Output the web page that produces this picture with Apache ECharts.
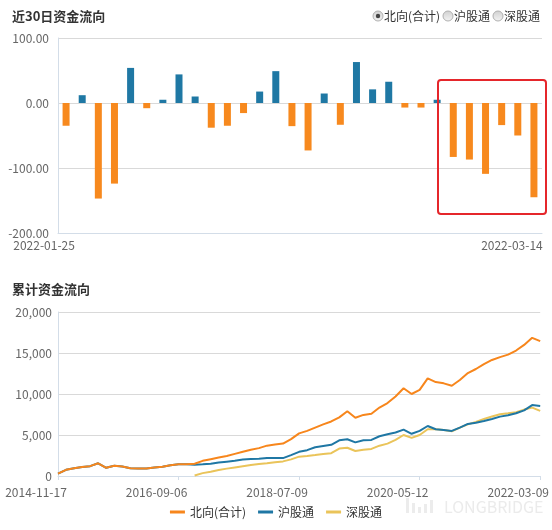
<!DOCTYPE html>
<html>
<head>
<meta charset="utf-8">
<script src="https://cdn.jsdelivr.net/npm/echarts@6/dist/echarts.min.js"></script>
<style>
  html, body { margin: 0; padding: 0; background: #fff; }
  #chart { width: 552px; height: 530px; }
</style>
</head>
<body>
<div id="chart"></div>
<script>
// 近30日资金流向 (亿元)
const flowDates = [
  '2022-01-25', '2022-01-26', '2022-01-27', '2022-01-28', '2022-02-07', '2022-02-08',
  '2022-02-09', '2022-02-10', '2022-02-11', '2022-02-14', '2022-02-15', '2022-02-16',
  '2022-02-17', '2022-02-18', '2022-02-21', '2022-02-22', '2022-02-23', '2022-02-24',
  '2022-02-25', '2022-02-28', '2022-03-01', '2022-03-02', '2022-03-03', '2022-03-04',
  '2022-03-07', '2022-03-08', '2022-03-09', '2022-03-10', '2022-03-11', '2022-03-14'
];
const flowValues = [
  -35, 12, -147, -124, 54, -8, 5, 44, 10, -38, -35, -15.5, 17.6, 49, -35.6,
  -73, 14.6, -33.5, 63, 21, 32.7, -7, -7, 5, -83, -87, -109, -34, -50, -145
];
const flowTicks = { min: -200, max: 100, step: 100 };

// 累计资金流向 (亿元)
const cumDates = [
  '2014-11-17', '2014-12-31', '2015-02-13', '2015-03-30', '2015-05-12', '2015-06-25',
  '2015-08-07', '2015-09-21', '2015-11-03', '2015-12-17', '2016-01-29', '2016-03-14',
  '2016-04-27', '2016-06-09', '2016-07-22', '2016-09-06', '2016-10-20', '2016-12-05',
  '2017-01-18', '2017-03-03', '2017-04-18', '2017-06-01', '2017-07-17', '2017-08-30',
  '2017-10-13', '2017-11-27', '2018-01-10', '2018-02-23', '2018-04-10', '2018-05-24',
  '2018-07-09', '2018-08-22', '2018-10-08', '2018-11-21', '2019-01-04', '2019-02-19',
  '2019-04-04', '2019-05-20', '2019-07-03', '2019-08-16', '2019-09-30', '2019-11-13',
  '2019-12-27', '2020-02-11', '2020-03-27', '2020-05-12', '2020-06-25', '2020-08-10',
  '2020-09-23', '2020-11-06', '2020-12-21', '2021-02-03', '2021-03-19', '2021-05-04',
  '2021-06-17', '2021-07-30', '2021-09-13', '2021-10-27', '2021-12-10', '2022-01-25',
  '2022-03-09'
];
const northTotal = [
  300, 750, 950, 1100, 1200, 1550, 1000, 1250, 1150, 950, 900, 920, 1050, 1130, 1300,
  1420, 1430, 1500, 1850, 2050, 2250, 2450, 2700, 2950, 3200, 3400, 3700, 3850, 3950,
  4500, 5200, 5500, 5900, 6300, 6650, 7150, 7900, 7100, 7450, 7600, 8350, 8900, 9700,
  10700, 10000, 10500, 11900, 11450, 11300, 11000, 11700, 12550, 13050, 13650, 14150,
  14500, 14800, 15300, 15990, 16850, 16450
];
const shConnect = [
  300, 750, 950, 1100, 1200, 1550, 1000, 1250, 1150, 950, 900, 920, 1050, 1130, 1300,
  1420, 1430, 1380, 1420, 1500, 1650, 1750, 1850, 2000, 2080, 2110, 2200, 2200, 2180,
  2550, 2950, 3150, 3500, 3650, 3800, 4350, 4480, 4100, 4350, 4400, 4850, 5100, 5300,
  5650, 5150, 5500, 6100, 5700, 5600, 5500, 5900, 6350, 6500, 6700, 6950, 7240, 7400,
  7650, 8000, 8650, 8550
];
const szConnect = [
  null, null, null, null, null, null, null, null, null, null, null, null, null, null, null,
  null, null, 60, 350, 530, 720, 900, 1050, 1200, 1350, 1450, 1550, 1670, 1780,
  2030, 2360, 2450, 2560, 2680, 2780, 3350, 3450, 3050, 3200, 3300, 3700, 3950, 4400,
  5000, 4650, 5000, 5700, 5700, 5600, 5450, 5900, 6300, 6600, 6950, 7250, 7530, 7650,
  7780, 8100, 8340, 7940
];
const cumTicks = { min: 0, max: 20000, step: 5000 };

const seriesNames = ['北向(合计)', '沪股通', '深股通'];
const lineColors = ['#f7861c', '#1f77a4', '#eac45a'];
const barUp = '#1f78a4';
const barDown = '#f7891e';

const font = '"Noto Sans CJK SC", "Noto Sans", sans-serif';
const axisColor = '#d3dde8';
const gridColor = '#d9d9d9';
const labelColor = '#666';

// 日期标签整体左移（与原图一致）
const shiftedLabel = {
  formatter: (v) => '{d|' + v + '}',
  rich: { d: { fontSize: 12, color: labelColor, fontFamily: font, padding: [0, 44, 0, 0] } }
};

const chart = echarts.init(document.getElementById('chart'), null, { renderer: 'canvas' });

function radio(cx, cy, label, checked) {
  const items = [
    {
      type: 'circle',
      shape: { cx: cx, cy: cy, r: 5 },
      style: {
        fill: new echarts.graphic.LinearGradient(0, 0, 0, 1, [
          { offset: 0, color: '#cfcfcf' },
          { offset: 1, color: '#f4f4f4' }
        ]),
        stroke: '#b0b0b0',
        lineWidth: 1
      }
    },
    {
      type: 'text',
      x: cx + 6,
      y: cy,
      style: { text: label, fontSize: 12, fill: '#333', fontFamily: font, verticalAlign: 'middle' }
    }
  ];
  if (checked) {
    items.push({ type: 'circle', shape: { cx: cx, cy: cy, r: 2.2 }, style: { fill: '#444' } });
  }
  return items;
}

const option = {
  animation: false,
  backgroundColor: '#fff',
  textStyle: { fontFamily: font },
  title: [
    { text: '近30日资金流向', left: 12, top: 10, padding: 0,
      textStyle: { fontSize: 13, fontWeight: 'bold', color: '#333', fontFamily: font } },
    { text: '累计资金流向', left: 12, top: 283, padding: 0,
      textStyle: { fontSize: 13, fontWeight: 'bold', color: '#333', fontFamily: font } }
  ],
  legend: {
    data: seriesNames,
    bottom: 7,
    left: 'center',
    icon: 'rect',
    itemWidth: 15,
    itemHeight: 3,
    itemGap: 12,
    textStyle: { fontSize: 12, color: '#333', fontFamily: font }
  },
  grid: [
    { left: 58, right: 10, top: 38, height: 195 },
    { left: 58, right: 11, top: 312, height: 164 }
  ],
  xAxis: [
    {
      type: 'category',
      gridIndex: 0,
      data: flowDates,
      axisLine: { onZero: false, lineStyle: { color: axisColor } },
      axisTick: { show: false },
      axisLabel: Object.assign({ interval: flowDates.length - 2, margin: 6 }, shiftedLabel)
    },
    {
      type: 'category',
      gridIndex: 1,
      data: cumDates,
      boundaryGap: false,
      axisLine: { lineStyle: { color: axisColor } },
      axisTick: { show: true, interval: 14, length: 4, lineStyle: { color: axisColor } },
      axisLabel: Object.assign({ interval: 14, margin: 10 }, shiftedLabel)
    }
  ],
  yAxis: [
    {
      type: 'value',
      gridIndex: 0,
      min: flowTicks.min,
      max: flowTicks.max,
      interval: flowTicks.step,
      axisLine: { show: true, lineStyle: { color: axisColor } },
      axisTick: { show: false },
      splitLine: { lineStyle: { color: gridColor } },
      axisLabel: { color: labelColor, fontSize: 12, margin: 9, formatter: (v) => v.toFixed(2) }
    },
    {
      type: 'value',
      gridIndex: 1,
      min: cumTicks.min,
      max: cumTicks.max,
      interval: cumTicks.step,
      axisLine: { show: true, lineStyle: { color: axisColor } },
      axisTick: { show: false },
      splitLine: { lineStyle: { color: gridColor } },
      axisLabel: { color: labelColor, fontSize: 12, margin: 6, formatter: (v) => v.toLocaleString('en-US') }
    }
  ],
  series: [
    {
      name: '近30日',
      type: 'bar',
      xAxisIndex: 0,
      yAxisIndex: 0,
      data: flowValues,
      barWidth: 7,
      itemStyle: { color: (p) => (p.value >= 0 ? barUp : barDown) }
    },
    {
      name: seriesNames[0],
      type: 'line',
      xAxisIndex: 1,
      yAxisIndex: 1,
      data: northTotal,
      showSymbol: false,
      z: 5,
      lineStyle: { color: lineColors[0], width: 2 },
      itemStyle: { color: lineColors[0] }
    },
    {
      name: seriesNames[1],
      type: 'line',
      xAxisIndex: 1,
      yAxisIndex: 1,
      data: shConnect,
      showSymbol: false,
      z: 4,
      lineStyle: { color: lineColors[1], width: 2 },
      itemStyle: { color: lineColors[1] }
    },
    {
      name: seriesNames[2],
      type: 'line',
      xAxisIndex: 1,
      yAxisIndex: 1,
      data: szConnect,
      showSymbol: false,
      z: 3,
      lineStyle: { color: lineColors[2], width: 2 },
      itemStyle: { color: lineColors[2] }
    }
  ],
  graphic: [
    ...radio(378, 16, '北向(合计)', true),
    ...radio(448, 16, '沪股通', false),
    ...radio(498, 16, '深股通', false),
    // 红框标注
    {
      type: 'rect',
      shape: { x: 438, y: 80, width: 108, height: 134, r: 3 },
      style: { fill: 'none', stroke: '#e5262b', lineWidth: 2 },
      z: 100
    },
    // 水印
    { type: 'rect', shape: { x: 406, y: 498, width: 3, height: 15 }, style: { fill: '#ececec' } },
    { type: 'rect', shape: { x: 412, y: 503, width: 3, height: 10 }, style: { fill: '#ececec' } },
    { type: 'rect', shape: { x: 418, y: 507, width: 3, height: 6 }, style: { fill: '#ececec' } },
    { type: 'rect', shape: { x: 424, y: 504, width: 3, height: 9 }, style: { fill: '#ececec' } },
    { type: 'rect', shape: { x: 430, y: 500, width: 3, height: 13 }, style: { fill: '#ececec' } },
    {
      type: 'text',
      x: 444,
      y: 507,
      style: { text: 'LONGBRIDGE', fontSize: 16, fill: '#ebebeb', fontFamily: font, verticalAlign: 'middle' }
    }
  ]
};

chart.setOption(option);
</script>
</body>
</html>
